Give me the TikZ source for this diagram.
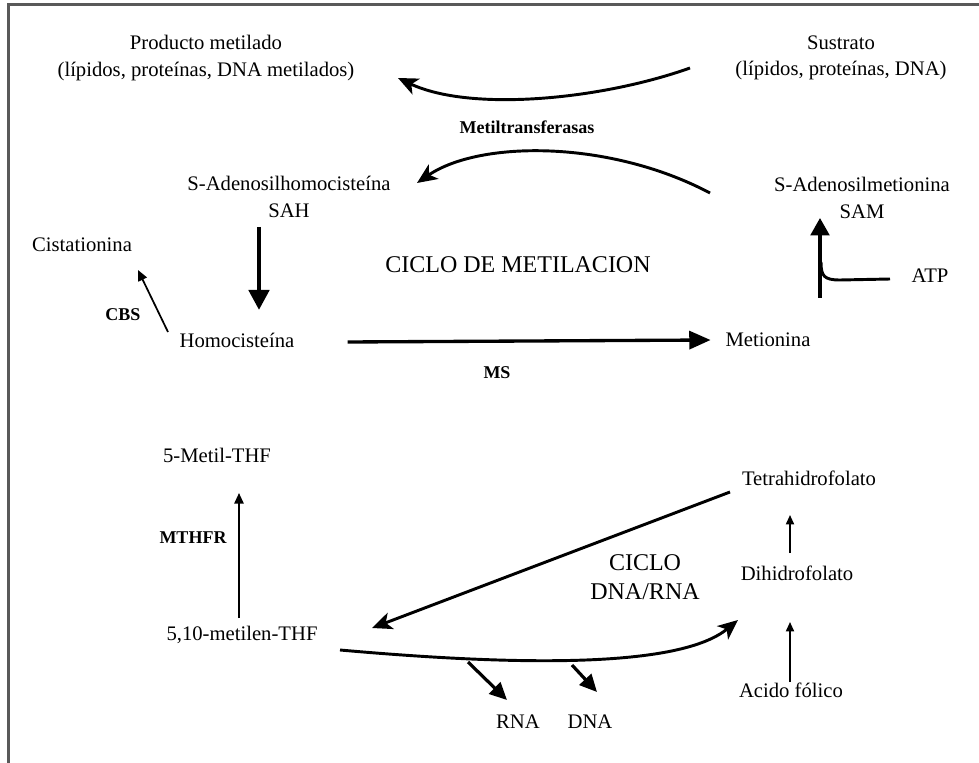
\documentclass[tikz,border=0pt]{standalone}
\usepackage{fontspec}
\setmainfont{Liberation Serif}
\usetikzlibrary{arrows.meta}

\begin{document}
\begin{tikzpicture}[x=0.75pt,y=-0.75pt,>={Triangle[length=8pt,width=7pt]},
  txt/.style={font=\fontsize{15.5}{20}\selectfont,align=center,inner sep=0pt},
  enz/.style={font=\bfseries\fontsize{13.5}{15}\selectfont,inner sep=0pt},
  ciclo/.style={font=\fontsize{18}{22}\selectfont,align=center,inner sep=0pt},
  curva/.style={line width=2.2pt,-{Stealth[length=15pt,width=13pt,inset=4pt]}},
  gruesa/.style={line width=2.4pt,-{Triangle[length=13pt,width=12pt]}},
  fina/.style={line width=1.3pt,->}]
  \useasboundingbox (0,0) rectangle (979,763);
  % Rahmen
  \draw[line width=1.8pt,black!65] (8.5,763) -- (8.5,4.5) -- (979,4.5);
  % Ciclo de metilacion
  \node[txt] (prod) at (206,58) {Producto metilado\\(lípidos, proteínas, DNA metilados)};
  \node[txt] (sustrato) at (841,58) {Sustrato\\(lípidos, proteínas, DNA)};
  \node[enz] (metiltr) at (527,127) {Metiltransferasas};
  \node[txt] (sah) at (289,197) {S-Adenosilhomocisteína\\SAH};
  \node[txt] (sam) at (862,198) {S-Adenosilmetionina\\SAM};
  \node[txt] (cista) at (82,245) {Cistationina};
  \node[enz] (cbs) at (123,315) {CBS};
  \node[txt] (homo) at (237,340) {Homocisteína};
  \node[txt] (meti) at (768,340) {Metionina};
  \node[enz] (ms) at (497,373) {MS};
  \node[txt] (atp) at (930,276) {ATP};
  \node[ciclo] (ciclom) at (518,265) {CICLO DE METILACION};
  % Ciclo DNA/RNA
  \node[txt] (metilthf) at (217,455) {5-Metil-THF};
  \node[enz] (mthfr) at (193,538) {MTHFR};
  \node[txt] (mthf) at (242,635) {5,10-metilen-THF};
  \node[txt] (thf) at (809,478) {Tetrahidrofolato};
  \node[txt] (dhf) at (797,573) {Dihidrofolato};
  \node[txt] (folico) at (791,690) {Acido fólico};
  \node[ciclo] (ciclod) at (645,577) {CICLO\\DNA/RNA};
  \node[txt] (rna) at (518,722) {RNA};
  \node[txt] (dna) at (590,722) {DNA};
  % Endpunkte der Pfeile
  \coordinate (sus1) at (690,68);  \coordinate (prod1) at (398,78);
  \coordinate (sam1) at (710,193); \coordinate (sah1) at (417,183);
  \coordinate (sah2) at (259,227); \coordinate (homo1) at (259,310);
  \coordinate (homo2) at (168,332); \coordinate (cista1) at (138,270);
  \coordinate (meti1) at (820,298); \coordinate (sam2) at (820,218);
  \coordinate (atp1) at (890,279);
  \coordinate (thf1) at (730,492); \coordinate (mthf1) at (372,628);
  \coordinate (mthf2) at (340,650); \coordinate (dhf1) at (738,620);
  \coordinate (rna1) at (468,662); \coordinate (dna1) at (572,665);
  % Pfeile oben
  \draw[curva] (sus1) .. controls (600,100) and (470,112) .. (prod1);
  \draw[curva] (sam1) .. controls (610,140) and (480,140) .. (sah1);
  \draw[line width=3.5pt,-{Triangle[length=15pt,width=15pt]}] (sah2) -- (homo1);
  \draw[fina,->] (homo2) -- (cista1);
  \draw[line width=2.5pt,-{Triangle[length=16pt,width=13.5pt]}] (homo.east) ++(53,2) -- ([xshift=-11pt]meti.west);
  \draw[line width=2.4pt,-{Triangle[length=13pt,width=14pt]}] (meti1) -- (sam2);
  \draw[line width=2.2pt] (atp1) -- (840,280) .. controls (824,280) and (821,276) .. (821,262);
  % Pfeile unten
  \draw[fina] (239,618) -- (239,493);
  \draw[curva] (thf1) -- (mthf1);
  \draw[curva] (mthf2) .. controls (520,666) and (680,668) .. (dhf1);
  \draw[gruesa] (rna1) -- (507,700);
  \draw[gruesa] (dna1) -- (597,692);
  \draw[fina,>={Triangle[length=7pt,width=6pt]}] (790,553) -- (790,515);
  \draw[fina,>={Triangle[length=7pt,width=6pt]}] (790,682) -- (790,622);
\end{tikzpicture}
\end{document}
